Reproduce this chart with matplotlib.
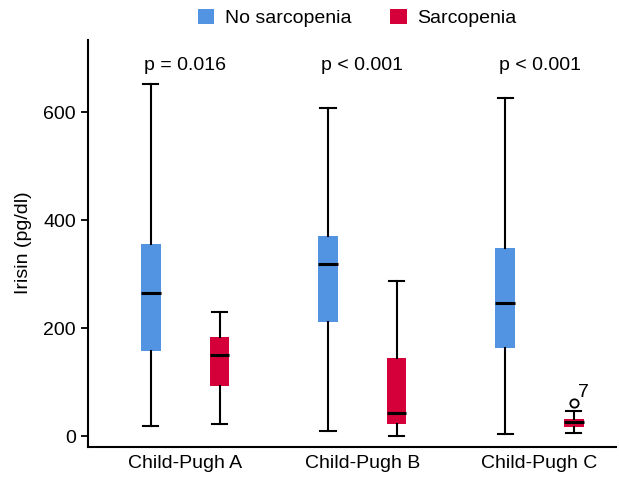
import matplotlib.pyplot as plt
from matplotlib.patches import Patch

plt.rcParams['font.family'] = ['Liberation Sans', 'DejaVu Sans']

groups = ["Child-Pugh A", "Child-Pugh B", "Child-Pugh C"]
p_labels = ["p = 0.016", "p < 0.001", "p < 0.001"]

# five-number summaries: whislo, q1, med, q3, whishi
no_sarc = [
    [19, 158, 265, 357, 652],
    [10, 212, 319, 371, 608],
    [4, 163, 248, 349, 627],
]
sarc = [
    [23, 93, 151, 184, 230],
    [1, 23, 43, 145, 288],
    [6, 18, 26, 33, 47],
]
sarc_outliers = [[], [], [61]]
outlier_labels = {2: "7"}

blue = "#5294E2"
red = "#D5003A"


def make_stats(rows, fliers=None):
    stats = []
    for i, (lo, q1, med, q3, hi) in enumerate(rows):
        stats.append(dict(whislo=lo, q1=q1, med=med, q3=q3, whishi=hi,
                          fliers=fliers[i] if fliers else []))
    return stats


fig = plt.figure(figsize=(6.19, 4.87), dpi=100)
ax = fig.add_axes([0.1417, 0.0828, 0.853, 0.836])

pos = list(range(len(groups)))
off = 0.194
common = dict(widths=0.11, capwidths=0.085, patch_artist=True,
              showfliers=True,
              medianprops=dict(color='black', linewidth=2.2),
              whiskerprops=dict(color='black', linewidth=1.5),
              capprops=dict(color='black', linewidth=1.5),
              flierprops=dict(marker='o', markersize=6, markerfacecolor='white',
                              markeredgecolor='black', markeredgewidth=1.3))

b1 = ax.bxp(make_stats(no_sarc), positions=[p - off for p in pos], **common)
b2 = ax.bxp(make_stats(sarc, sarc_outliers), positions=[p + off for p in pos], **common)
for box in b1['boxes']:
    box.set_facecolor(blue)
    box.set_edgecolor('none')
for box in b2['boxes']:
    box.set_facecolor(red)
    box.set_edgecolor('none')

for i, txt in outlier_labels.items():
    ax.text(i + off + 0.025, sarc_outliers[i][0] + 4, txt, fontsize=14,
            ha='left', va='bottom')

for i, txt in enumerate(p_labels):
    ax.text(i, 687, txt, fontsize=14, ha='center', va='center')

ax.set_xlim(-0.55, 2.43)
ax.set_ylim(-19, 735)
ax.set_yticks([0, 200, 400, 600])
ax.set_xticks(pos)
ax.set_xticklabels(groups)
ax.tick_params(axis='x', length=0, labelsize=14, pad=6)
ax.tick_params(axis='y', length=5, width=1.3, labelsize=14)
ax.set_ylabel("Irisin (pg/dl)", fontsize=14, labelpad=8)
for s in ['top', 'right']:
    ax.spines[s].set_visible(False)
for s in ['left', 'bottom']:
    ax.spines[s].set_linewidth(1.5)

handles = [Patch(facecolor=blue, label="No sarcopenia"),
           Patch(facecolor=red, label="Sarcopenia")]
fig.legend(handles=handles, loc='center', bbox_to_anchor=(0.577, 0.963), ncol=2,
           frameon=False, fontsize=14, handlelength=0.85, handleheight=0.85,
           columnspacing=2.0, handletextpad=0.55)

fig.savefig("out.png", dpi=100)
